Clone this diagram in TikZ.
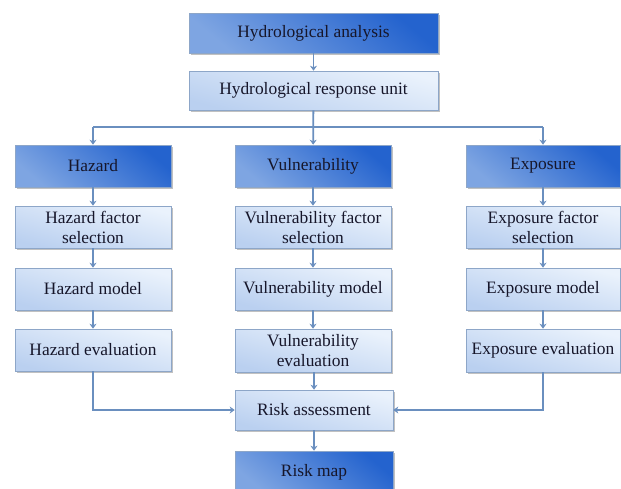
\documentclass[tikz,border=0pt]{standalone}
\usepackage{fontspec}
\setmainfont{Liberation Serif}
\usetikzlibrary{arrows.meta,shadows}
\definecolor{darkA}{HTML}{2463CE}
\definecolor{darkB}{HTML}{7EA5E2}
\definecolor{lightA}{HTML}{EAF2FC}
\definecolor{lightB}{HTML}{BAD0F0}
\definecolor{edgeC}{HTML}{8DA6C8}
\definecolor{lineC}{HTML}{6A8FBF}
\definecolor{txtC}{HTML}{16162A}
\begin{document}
\begin{tikzpicture}[x=1pt,y=-1pt,
  base/.style={draw=edgeC,line width=0.6pt,align=center,inner sep=0pt,
    font=\fontsize{17.4}{20}\selectfont,text=txtC,
    drop shadow={shadow xshift=1.6pt,shadow yshift=-1.8pt,fill=black!35,opacity=0.7}},
  darkbox/.style={base,top color=darkA,bottom color=darkB,shading angle=-40},
  lightbox/.style={base,top color=lightA,bottom color=lightB,shading angle=-15},
  conn/.style={draw=lineC,line width=1.8pt,-{Stealth[length=5pt,width=7pt]}},
  plain/.style={draw=lineC,line width=1.8pt}]
\useasboundingbox (0,0) rectangle (621,488);
\node[darkbox,minimum width=249pt,minimum height=40pt] (ha) at (313.5,33) {Hydrological analysis};
\node[lightbox,minimum width=249pt,minimum height=39pt] (hru) at (313.5,90.5) {Hydrological response unit};
\node[darkbox,minimum width=156pt,minimum height=42pt] (hz) at (93,166) {Hazard};
\node[lightbox,minimum width=156pt,minimum height=42pt] (hfs) at (93,227) {Hazard factor\\selection};
\node[lightbox,minimum width=156pt,minimum height=42pt] (hm) at (93,289) {Hazard model};
\node[lightbox,minimum width=156pt,minimum height=42pt] (he) at (93,350) {Hazard evaluation};
\node[darkbox,minimum width=156pt,minimum height=42pt] (vu) at (313,166) {Vulnerability};
\node[lightbox,minimum width=156pt,minimum height=42pt] (vfs) at (313,227) {Vulnerability factor\\selection};
\node[lightbox,minimum width=156pt,minimum height=42pt] (vm) at (313,289) {Vulnerability model};
\node[lightbox,minimum width=156pt,minimum height=43pt] (ve) at (313,350.5) {Vulnerability\\evaluation};
\node[darkbox,minimum width=154pt,minimum height=42pt] (ex) at (543,166) {Exposure};
\node[lightbox,minimum width=154pt,minimum height=42pt] (efs) at (543,227) {Exposure factor\\selection};
\node[lightbox,minimum width=154pt,minimum height=42pt] (em) at (543,289) {Exposure model};
\node[lightbox,minimum width=154pt,minimum height=43pt] (ee) at (543,350.5) {Exposure evaluation};
\node[lightbox,minimum width=158pt,minimum height=40pt] (ra) at (314,410) {Risk assessment};
\node[darkbox,minimum width=158pt,minimum height=42pt] (rm) at (314,472) {Risk map};
\coordinate (bus) at (313,127);
% connectors
\draw[conn] (ha) -- (hru);
\draw[conn] (hru) -- (vu);
\draw[plain] (hz.north |- bus) -- (ex.north |- bus);
\draw[conn] (hz.north |- bus) -- (hz);
\draw[conn] (ex.north |- bus) -- (ex);
\draw[conn] (hz) -- (hfs);
\draw[conn] (hfs) -- (hm);
\draw[conn] (hm) -- (he);
\draw[conn] (vu) -- (vfs);
\draw[conn] (vfs) -- (vm);
\draw[conn] (vm) -- (ve);
\draw[conn] (ex) -- (efs);
\draw[conn] (efs) -- (em);
\draw[conn] (em) -- (ee);
\draw[conn] (he.south) |- (ra.west);
\draw[conn] (ee.south) |- (ra.east);
\draw[conn] (ve.south -| ra.north) -- (ra);
\draw[conn] (ra) -- (rm);
\end{tikzpicture}
\end{document}
